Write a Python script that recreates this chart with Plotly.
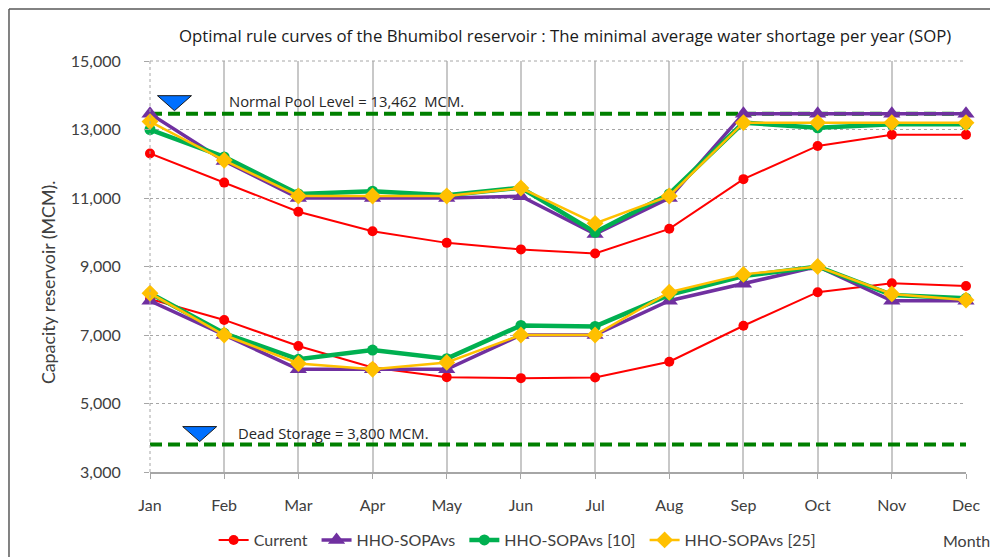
import plotly.graph_objects as go

months = ["Jan", "Feb", "Mar", "Apr", "May", "Jun", "Jul", "Aug", "Sep", "Oct", "Nov", "Dec"]

current_upper = [12300, 11450, 10600, 10030, 9690, 9500, 9380, 10100, 11550, 12520, 12850, 12850]
current_lower = [8050, 7440, 6680, 6050, 5770, 5740, 5760, 6220, 7270, 8250, 8510, 8430]

sopavs_upper = [13462, 12080, 11000, 11000, 11000, 11050, 9950, 11000, 13462, 13462, 13462, 13462]
sopavs_lower = [8000, 7000, 6000, 6000, 6000, 7000, 7000, 8000, 8500, 9000, 8000, 8000]

sopavs10_upper = [13000, 12200, 11120, 11200, 11080, 11300, 10000, 11120, 13200, 13050, 13150, 13150]
sopavs10_lower = [8220, 7050, 6290, 6560, 6310, 7280, 7250, 8170, 8720, 9000, 8170, 8070]

sopavs25_upper = [13230, 12100, 11060, 11060, 11060, 11290, 10260, 11060, 13200, 13200, 13200, 13200]
sopavs25_lower = [8220, 7000, 6170, 6000, 6200, 7000, 7000, 8250, 8770, 9000, 8200, 8020]

normal_pool_level = 13462
dead_storage = 3800

y_ticks = [3000, 5000, 7000, 9000, 11000, 13000, 15000]

FONT = "Lato"

fig = go.Figure()

# reference levels
for lvl in [normal_pool_level, dead_storage]:
    fig.add_trace(go.Scatter(
        x=months, y=[lvl] * len(months), mode="lines",
        line=dict(color="#008000", width=4, dash="12px,6px"),
        showlegend=False, hoverinfo="skip", cliponaxis=False))

series = [
    ("Current", current_upper, current_lower, "#FF0000", 2, "circle", 10),
    ("HHO-SOPAvs", sopavs_upper, sopavs_lower, "#7030A0", 3.5, "triangle-up", 15),
    ("HHO-SOPAvs [10]", sopavs10_upper, sopavs10_lower, "#00B050", 4.5, "circle", 11),
    ("HHO-SOPAvs [25]", sopavs25_upper, sopavs25_lower, "#FFC000", 2.5, "diamond", 13),
]

for name, up, lo, color, lw, sym, ms in series:
    for i, vals in enumerate([up, lo]):
        fig.add_trace(go.Scatter(
            x=months, y=vals, mode="lines+markers", name=name + "&nbsp;",
            legendgroup=name, showlegend=(i == 0),
            line=dict(color=color, width=lw),
            marker=dict(symbol=sym, size=ms, color=color),
            cliponaxis=False))

# blue level markers (inverted triangles)
for xa, lvl in [(0.33, normal_pool_level), (0.67, dead_storage)]:
    fig.add_shape(type="path", xref="x", yref="y",
                  xsizemode="pixel", ysizemode="pixel",
                  xanchor=xa, yanchor=lvl,
                  path="M -17,18 L 17,18 L 0,3 Z",
                  fillcolor="#0070FF", line=dict(color="#1a1a1a", width=1))

annotations = [
    dict(x=1.04, y=normal_pool_level, xref="x", yref="y", yshift=13,
         text="Normal Pool Level = 13,462&nbsp;&nbsp;MCM.", showarrow=False,
         xanchor="left", yanchor="middle",
         font=dict(family="Open Sans", size=14.8, color="#262626")),
    dict(x=1.16, y=dead_storage, xref="x", yref="y", yshift=12,
         text="Dead Storage = 3,800 MCM.", showarrow=False,
         xanchor="left", yanchor="middle",
         font=dict(family="Open Sans", size=14.8, color="#262626")),
    dict(x=0.508, y=1.063, xref="paper", yref="paper",
         text="Optimal rule curves of the Bhumibol reservoir : The minimal average water shortage per year (SOP)",
         showarrow=False, xanchor="center", yanchor="middle",
         font=dict(family="Open Sans", size=16.8, color="#1a1a1a")),
    dict(x=-0.125, y=0.462, xref="paper", yref="paper",
         text="Capacity reservoir (MCM).", textangle=-90, showarrow=False,
         xanchor="center", yanchor="middle",
         font=dict(family=FONT, size=17.8, color="#404040")),
    dict(x=1.001, y=-0.1655, xref="paper", yref="paper", text="Month",
         showarrow=False, xanchor="center", yanchor="middle",
         font=dict(family=FONT, size=16, color="#404040")),
]

shapes = [
    # dotted top border and left axis of plot area
    dict(type="line", xref="paper", yref="paper", x0=0, x1=1, y0=1, y1=1,
         line=dict(color="#a6a6a6", width=1, dash="dot")),
    dict(type="line", xref="paper", yref="paper", x0=0, x1=0, y0=0, y1=1,
         line=dict(color="#a6a6a6", width=1, dash="dot")),
    # outer frame (top and left)
    dict(type="line", xref="paper", yref="paper", x0=-0.1728, x1=1.05, y0=1.1265, y1=1.1265,
         line=dict(color="#595959", width=1.5)),
    dict(type="line", xref="paper", yref="paper", x0=-0.1728, x1=-0.1728, y0=-0.25, y1=1.1265,
         line=dict(color="#595959", width=1.5)),
]
for s in shapes:
    fig.add_shape(**s)

fig.update_layout(
    width=990, height=549,
    margin=dict(l=142, r=32, t=53, b=85, autoexpand=False),
    paper_bgcolor="white", plot_bgcolor="white",
    font=dict(family=FONT, size=16, color="#404040"),
    annotations=annotations,
    showlegend=True,
    legend=dict(orientation="h", x=0.078, y=-0.1655, xanchor="left", yanchor="middle",
                font=dict(family=FONT, size=16, color="#404040"),
                itemwidth=30, bgcolor="rgba(0,0,0,0)", tracegroupgap=0),
)
fig.update_xaxes(
    type="category", range=[0, 11],
    showgrid=True, gridcolor="#c8c8c8", gridwidth=1.5,
    showline=True, linecolor="#a6a6a6", linewidth=1.5,
    ticks="outside", ticklen=5, tickcolor="#a6a6a6",
    ticklabelstandoff=13, tickfont=dict(family=FONT, size=16, color="#404040"),
    zeroline=False,
)
fig.update_yaxes(
    range=[3000, 15000], tickvals=y_ticks, tickformat=",",
    showgrid=True, gridcolor="#a6a6a6", gridwidth=1, griddash="dot",
    showline=False, ticks="outside", ticklen=5, tickcolor="#a6a6a6",
    ticklabelstandoff=20, tickfont=dict(family=FONT, size=16, color="#404040"),
    zeroline=False,
)

fig.write_html("out.html")
